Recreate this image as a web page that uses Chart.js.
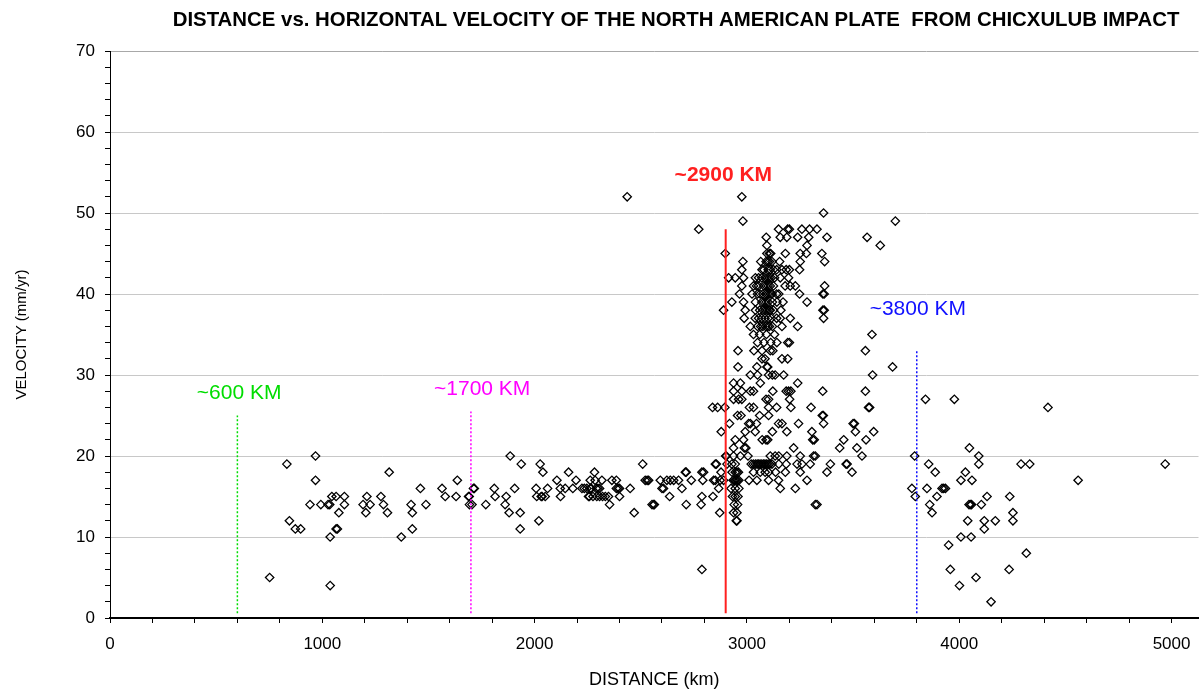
<!DOCTYPE html>
<html>
<head>
<meta charset="utf-8">
<title>Distance vs. horizontal velocity</title>
<script src="https://cdn.jsdelivr.net/npm/chart.js@4.4.1/dist/chart.umd.min.js"></script>
<style>
  html, body { margin: 0; padding: 0; background: #fff; }
  #wrap { width: 1204px; height: 691px; }
</style>
</head>
<body>
<div id="wrap"><canvas id="chartPlate" width="1204" height="691"></canvas></div>
<script>
// [distance km, velocity mm/yr]
const westPoints = [
  [752,5],[833,19],[845,12],[873,11],[898,11],[942,14],[968,20],[968,17],[993,14],[1027,14],
  [1035,14],[1037,10],[1037,4],[1045,15],[1065,15],[1065,11],[1071,11],[1078,13],[1104,15],[1104,14],
  [1192,14],[1210,15],[1205,13],[1225,14],[1276,15],[1288,14],[1307,13],[1315,18],[1372,10],[1418,14],
  [1424,13],[1424,11],[1462,16],[1488,14],[1564,16],[1579,15],[1630,15],[1636,17],[1689,15],[1692,15],
  [1693,14],[1705,14],[1712,16],[1716,16],[1770,14],[1810,16],[1814,15]
];
const centralPoints = [
  [1861,14],[1866,15],[1880,13],[1885,20],[1906,16],[1932,13],[1932,11],[1937,19],[2007,16],[2010,15],
  [2020,12],[2026,19],[2031,15],[2035,15],[2039,18],[2050,15],[2061,16],[2105,17],[2121,16],[2122,15],
  [2144,16],[2160,18],[2180,16],[2195,17],[2223,16],[2234,16],[2246,16],[2254,15],[2258,15],[2262,16],
  [2262,17],[2267,16],[2275,15],[2282,18],[2285,17],[2290,16],[2293,15],[2298,16],[2306,16],[2306,15],
  [2317,17],[2320,15],[2333,15],[2348,15],[2353,14],[2364,17],[2385,17],[2385,16],[2393,16],[2400,16],
  [2400,15],[2436,52],[2450,16],[2469,13],[2509,19],[2521,17],[2530,17],[2537,17],[2553,14],[2560,14],
  [2564,14],[2592,17],[2600,16],[2607,16],[2623,17],[2636,15],[2639,17],[2655,17],[2678,17],[2694,16],
  [2710,18],[2714,18],[2714,14],[2738,17],[2773,48],[2784,14],[2788,15],[2788,18],[2796,18],[2788,6],
  [2792,17],[2838,26],[2840,15],[2843,17],[2851,17],[2851,19],[2856,19],[2862,26],[2867,16],[2872,13],
  [2874,17],[2878,18],[2879,23],[2890,17],[2890,38],[2896,26],[2898,45],[2900,20]
];
const redLinePoints = [
  [2950,12],[2953,12],[2937,13],[2953,13],[2940,14],[2956,14],[2932,15],[2945,15],[2958,15],[2925,16],
  [2945,16],[2962,16],[2935,17],[2942,17],[2948,17],[2955,17],[2962,17],[2930,18],[2945,18],[2953,18],
  [2960,18],[2906,19],[2929,19],[2945,19],[2903,20],[2937,20],[2969,20],[2937,21],[2988,21],[2995,21],
  [2945,22],[2984,22],[2992,23],[2918,24],[3008,24],[3016,24],[2956,25],[2972,25],[2937,27],[2961,27],
  [2976,27],[2937,28],[2976,28],[2937,29],[2969,29],[2958,31],[2958,33],[2976,52],[2981,49],[2981,44],
  [2976,43],[2914,42],[2945,42],[2984,42],[2976,41],[2965,40],[2929,39],[2984,39],[2992,38],[2987,37]
];
const corePoints = [
  [3361,50],[3149,48],[3192,48],[3200,48],[3259,48],[3295,48],[3330,48],[3091,47],[3157,47],[3188,47],
  [3239,47],[3291,47],[3377,47],[3094,46],[3283,46],[3094,45],[3106,45],[3112,45],[3181,45],[3251,45],
  [3280,45],[3353,45],[3098,44],[3106,44],[3154,44],[3251,44],[3366,44],[3071,43],[3100,43],[3110,43],
  [3125,43],[3140,43],[3165,43],[3185,43],[3200,43],[3248,43],[3040,42],[3055,42],[3070,42],[3085,42],
  [3095,42],[3105,42],[3115,42],[3130,42],[3157,42],[3196,42],[3031,41],[3055,41],[3080,41],[3090,41],
  [3100,41],[3110,41],[3125,41],[3180,41],[3204,41],[3228,41],[3366,41],[3024,40],[3050,40],[3075,40],
  [3090,40],[3100,40],[3110,40],[3140,40],[3150,40],[3248,40],[3358,40],[3364,40],[3040,39],[3070,39],
  [3090,39],[3100,39],[3120,39],[3141,39],[3170,39],[3283,39],[3040,38],[3060,38],[3085,38],[3095,38],
  [3105,38],[3125,38],[3160,38],[3358,38],[3364,38],[3039,37],[3055,37],[3070,37],[3085,37],[3100,37],
  [3140,37],[3157,37],[3204,37],[3361,37],[3016,36],[3050,36],[3075,36],[3098,36],[3106,36],[3120,36],
  [3165,36],[3239,36],[3031,35],[3060,35],[3130,35],[3050,34],[3080,34],[3141,34],[3192,34],[3200,34],
  [3071,33],[3110,33],[3122,33],[3071,32],[3165,32],[3192,32],[3047,31],[3094,31],[3098,31],[3016,30],
  [3050,30],[3102,30],[3133,30],[3173,30],[3239,29],[3016,28],[3031,28],[3122,28],[3185,28],[3196,28],
  [3207,28],[3357,28],[3102,27],[3201,27],[3031,26],[3102,26],[3207,26],[3302,26],[3060,25],[3102,25],
  [3355,25],[3360,25],[3149,24],[3165,24],[3243,24],[3361,24],[3039,23],[3188,23],[3306,23],[3090,22],
  [3098,22],[3310,22],[3317,22],[3220,21],[3110,20],[3133,20],[3188,20],[3251,20],[3314,20],[3322,20],
  [3020,19],[3030,19],[3040,19],[3048,19],[3055,19],[3062,19],[3070,19],[3078,19],[3085,19],[3092,19],
  [3100,19],[3108,19],[3118,19],[3185,19],[3236,19],[3259,19],[3298,19],[3393,19],[3031,18],[3063,18],
  [3086,18],[3102,18],[3181,18],[3251,18],[3377,18],[3047,17],[3102,17],[3149,17],[3283,17],[3157,16],
  [3228,16],[3322,14],[3330,14],
  [3065,44],[3080,43],[3090,44],[3118,44],[3075,38],[3115,37],[3065,36],[3088,36],[3045,41],[3118,40],
  [3062,40],[3080,39],[3110,38],[3092,35],[3112,34],[3033,33],[3085,32],[3120,30],[3063,29],[3090,27],
  [3012,26],[3140,26],[3045,24],[3120,23],[3072,22],[3005,20],[3150,20],[3150,19],[3135,18],[3010,17]
];
const eastPoints = [
  [3437,21],[3456,22],[3467,19],[3472,19],[3495,18],[3500,24],[3506,24],[3511,23],[3518,21],[3542,20],
  [3558,28],[3558,33],[3561,22],[3566,47],[3573,26],[3578,26],[3589,35],[3592,30],[3597,23],[3628,46],
  [3686,31],[3699,49],[3790,20],[3777,16],[3793,15],[3841,27],[3848,16],[3856,19],[3861,14],[3872,13],
  [3887,18],[3895,15],[3919,16],[3927,16],[3935,16],[3950,9],[3958,6],[3977,27],[4001,4],[4008,10],
  [4008,17],[4029,18],[4040,12],[4046,14],[4048,21],[4052,14],[4056,10],[4058,14],[4060,17],[4079,5],
  [4092,20],[4092,19],[4104,14],[4118,12],[4118,11],[4131,15],[4150,2],[4170,12],[4235,6],[4238,15],
  [4253,13],[4253,12],[4291,19],[4316,8],[4332,19],[4418,26],[4560,17],[4970,19]
];

// marker lines
const markerKm = [600, 1700, 2900, 3800];
const markerBottom = [0.6, 0.6, 0.6, 0.6];
const markerTop = [25, 25.5, 48, 33];
const markerText = ['~600 KM', '~1700 KM', '~2900 KM', '~3800 KM'];
const markerLabelKm = [608, 1753, 2889, 3805];
const markerLabelVel = [27.7, 28.3, 54.7, 38.1];
const markerColors = ['#00dd00', '#ff00ff', '#ff2020', '#1010ff'];

const xTicks = [0, 1000, 2000, 3000, 4000, 5000];
const yTicks = [0, 10, 20, 30, 40, 50, 60, 70];

const FONT = '"Liberation Sans", Arial, sans-serif';

const allPoints = westPoints.concat(centralPoints, redLinePoints, corePoints, eastPoints)
  .map(p => ({x: p[0], y: p[1]}));

const markerSets = markerKm.map((km, i) => ({
  data: [{x: km, y: markerBottom[i]}, {x: km, y: markerTop[i]}],
  showLine: true,
  borderColor: markerColors[i],
  borderWidth: i === 2 ? 2 : 1.5,
  borderDash: i === 2 ? [] : [2, 2],
  pointRadius: 0,
  order: 0
}));

const titlePlugin = {
  id: 'plateTitle',
  afterDraw(chart) {
    const ctx = chart.ctx;
    ctx.save();
    ctx.font = 'bold 20.4px ' + FONT;
    ctx.fillStyle = '#000';
    ctx.textAlign = 'center';
    ctx.textBaseline = 'middle';
    ctx.fillText('DISTANCE vs. HORIZONTAL VELOCITY OF THE NORTH AMERICAN PLATE  FROM CHICXULUB IMPACT', 676, 20);
    ctx.restore();
  }
};

const markerLabels = {
  id: 'markerLabels',
  afterDatasetsDraw(chart) {
    const {ctx, scales: {x, y}} = chart;
    ctx.save();
    ctx.textAlign = 'center';
    ctx.textBaseline = 'middle';
    markerText.forEach((txt, i) => {
      ctx.font = (i === 2 ? 'bold ' : '') + '21px ' + FONT;
      ctx.fillStyle = markerColors[i];
      ctx.fillText(txt, x.getPixelForValue(markerLabelKm[i]), y.getPixelForValue(markerLabelVel[i]));
    });
    ctx.restore();
  }
};

new Chart(document.getElementById('chartPlate'), {
  type: 'scatter',
  data: {
    datasets: [
      {
        data: allPoints,
        pointStyle: 'rectRot',
        pointRadius: 4.2,
        borderColor: '#000',
        borderWidth: 1.3,
        backgroundColor: 'rgba(0,0,0,0)',
        order: 1
      }
    ].concat(markerSets)
  },
  options: {
    responsive: false,
    animation: false,
    devicePixelRatio: 1,
    layout: { padding: { top: 51, right: 0, bottom: 0, left: 0 } },
    plugins: {
      legend: { display: false },
      tooltip: { enabled: false },
      title: { display: false }
    },
    scales: {
      x: {
        type: 'linear',
        min: 0,
        max: 5127,
        afterFit(scale) { scale.height = 73; },
        afterBuildTicks(scale) {
          const t = [];
          for (let v = 0; v <= 5000; v += 200) t.push({value: v});
          scale.ticks = t;
        },
        ticks: {
          autoSkip: false,
          maxRotation: 0,
          padding: 11,
          color: '#000',
          font: { family: FONT, size: 17 },
          callback: v => xTicks.includes(v) ? String(v) : ''
        },
        grid: {
          color: 'rgba(0,0,0,0)',
          tickColor: '#000',
          tickLength: 5,
          drawOnChartArea: false
        },
        border: { color: '#000', width: 2 },
        title: {
          display: true,
          text: 'DISTANCE (km)',
          color: '#000',
          font: { family: FONT, size: 18 },
          padding: { top: 0, bottom: 0 }
        }
      },
      y: {
        type: 'linear',
        min: 0,
        max: 70,
        afterFit(scale) { scale.width = 110; },
        afterBuildTicks(scale) {
          const t = [];
          for (let v = 0; v <= 70; v += 2) t.push({value: v});
          scale.ticks = t;
        },
        ticks: {
          autoSkip: false,
          padding: 10,
          color: '#000',
          font: { family: FONT, size: 17 },
          callback: v => yTicks.includes(v) ? String(v) : ''
        },
        grid: {
          color: ctx => {
            const v = ctx.tick ? ctx.tick.value : -1;
            if (v === 70) return '#a8a8a8';
            return (v > 0 && yTicks.includes(v)) ? '#c8c8c8' : 'rgba(0,0,0,0)';
          },
          tickColor: '#000',
          tickLength: 5
        },
        border: { color: '#000', width: 1 },
        title: {
          display: true,
          text: 'VELOCITY (mm/yr)',
          color: '#000',
          font: { family: FONT, size: 15 },
          padding: { top: 13, bottom: 0 }
        }
      }
    }
  },
  plugins: [titlePlugin, markerLabels]
});
</script>
</body>
</html>
